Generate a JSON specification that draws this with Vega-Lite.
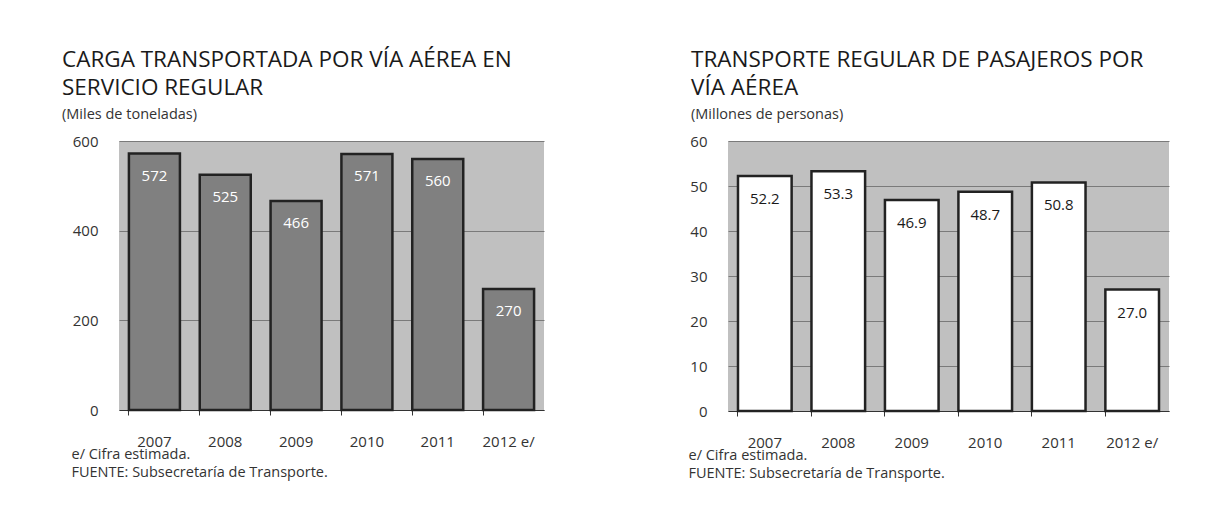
{
  "$schema": "https://vega.github.io/schema/vega-lite/v6.json",
  "autosize": "pad",
  "padding": {"left": 62, "top": 49, "right": 10, "bottom": 10},
  "background": "white",
  "spacing": 144,
  "config": {
    "font": "Open Sans",
    "view": {"fill": "#c0c0c0", "stroke": null},
    "title": {"fontSize": 22.5, "fontWeight": "normal", "color": "#1a1a1a", "lineHeight": 28, "subtitleFontSize": 14.5, "subtitleColor": "#333333", "subtitlePadding": 8, "offset": 13, "anchor": "start", "frame": "bounds"},
    "axis": {"labelFont": "Open Sans", "labelFontSize": 15, "labelColor": "#333333", "titleFont": "Open Sans", "titleFontWeight": "normal", "titleFontSize": 14.5, "titleColor": "#333333"}
  },
  "hconcat": [
    {
      "width": 425,
      "height": 269,
      "title": {"text": ["CARGA TRANSPORTADA POR VÍA AÉREA EN", "SERVICIO REGULAR"], "subtitle": "(Miles de toneladas)", "dx": -9},
      "data": {"values": [
        {"year": "2007", "value": 572},
        {"year": "2008", "value": 525},
        {"year": "2009", "value": 466},
        {"year": "2010", "value": 571},
        {"year": "2011", "value": 560},
        {"year": "2012 e/", "value": 270}
      ]},
      "layer": [
        {
          "mark": {"type": "bar", "fill": "#808080", "stroke": "#222222", "strokeWidth": 2.5},
          "encoding": {
            "x": {"field": "year", "type": "nominal", "sort": null, "scale": {"paddingInner": 0.28, "paddingOuter": 0.14},
              "axis": {"orient": "bottom", "ticks": false, "domain": false, "labelAngle": 0, "labelPadding": 24, "labelBaseline": "top",
                "title": ["e/ Cifra estimada.", "FUENTE: Subsecretaría de Transporte."], "titleAlign": "left", "titleAnchor": "start", "titleX": -48, "titleY": 48, "titleBaseline": "alphabetic", "titleLineHeight": 18}},
            "y": {"field": "value", "type": "quantitative", "scale": {"domain": [0, 600], "nice": false},
              "axis": {"values": [0, 200, 400, 600], "grid": true, "gridColor": "#7a7a7a", "gridWidth": 1, "domain": false, "ticks": false, "labelPadding": 21, "title": null}}
          }
        },
        {
          "mark": {"type": "text", "baseline": "middle", "dy": 22, "fontSize": 15, "color": "white", "font": "Open Sans"},
          "encoding": {
            "x": {"field": "year", "type": "nominal", "sort": null,
              "axis": {"orient": "bottom", "labels": false, "ticks": true, "tickSize": 5, "tickColor": "#333333", "bandPosition": 0, "domain": true, "domainColor": "#333333", "grid": false, "title": null}},
            "y": {"field": "value", "type": "quantitative"},
            "text": {"field": "value", "type": "quantitative", "format": "d"}
          }
        }
      ],
      "resolve": {"axis": {"x": "independent"}}
    },
    {
      "width": 441,
      "height": 270,
      "title": {"text": ["TRANSPORTE REGULAR DE PASAJEROS POR", "VÍA AÉREA"], "subtitle": "(Millones de personas)", "dx": 3},
      "data": {"values": [
        {"year": "2007", "value": 52.2},
        {"year": "2008", "value": 53.3},
        {"year": "2009", "value": 46.9},
        {"year": "2010", "value": 48.7},
        {"year": "2011", "value": 50.8},
        {"year": "2012 e/", "value": 27.0}
      ]},
      "layer": [
        {
          "mark": {"type": "bar", "fill": "white", "stroke": "#222222", "strokeWidth": 2.5},
          "encoding": {
            "x": {"field": "year", "type": "nominal", "sort": null, "scale": {"paddingInner": 0.27, "paddingOuter": 0.136},
              "axis": {"orient": "bottom", "ticks": false, "domain": false, "labelAngle": 0, "labelPadding": 24, "labelBaseline": "top",
                "title": ["e/ Cifra estimada.", "FUENTE: Subsecretaría de Transporte."], "titleAlign": "left", "titleAnchor": "start", "titleX": -40, "titleY": 48, "titleBaseline": "alphabetic", "titleLineHeight": 18}},
            "y": {"field": "value", "type": "quantitative", "scale": {"domain": [0, 60], "nice": false},
              "axis": {"values": [0, 10, 20, 30, 40, 50, 60], "grid": true, "gridColor": "#7a7a7a", "gridWidth": 1, "domain": false, "ticks": false, "labelPadding": 21, "title": null}}
          }
        },
        {
          "mark": {"type": "text", "baseline": "middle", "dy": 23, "fontSize": 15, "color": "#1a1a1a", "font": "Open Sans"},
          "encoding": {
            "x": {"field": "year", "type": "nominal", "sort": null,
              "axis": {"orient": "bottom", "labels": false, "ticks": true, "tickSize": 5, "tickColor": "#333333", "bandPosition": 0, "domain": true, "domainColor": "#333333", "grid": false, "title": null}},
            "y": {"field": "value", "type": "quantitative"},
            "text": {"field": "value", "type": "quantitative", "format": ".1f"}
          }
        }
      ],
      "resolve": {"axis": {"x": "independent"}}
    }
  ]
}
